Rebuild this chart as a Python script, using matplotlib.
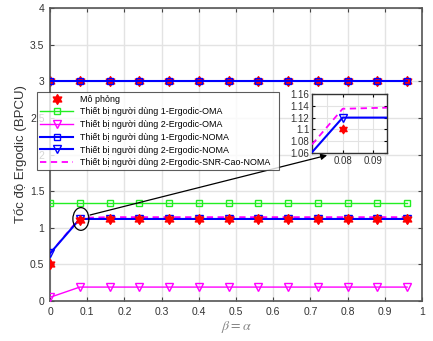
import matplotlib
matplotlib.use("Agg")
import matplotlib.pyplot as plt
import numpy as np
from matplotlib.path import Path
from matplotlib.patches import Ellipse
from matplotlib.lines import Line2D

plt.rcParams['font.family'] = ['Liberation Sans', 'DejaVu Sans']
plt.rcParams['mathtext.fontset'] = 'stix'

# ---- data ----
x = [0, 0.08, 0.16, 0.24, 0.32, 0.40, 0.48, 0.56, 0.64, 0.72, 0.80, 0.88, 0.96]
u1_oma = [1.34] * 13
u2_oma = [0.05] + [0.19] * 12
u1_noma = [3.01] * 13
u2_noma = [0.65] + [1.12] * 12
u2_hsnr = [0.65, 1.135] + [1.145] * 11
sim_u1 = [3.01] * 13
sim_u2 = [0.50, 1.10] + [1.12] * 11

labels = ["Mô phỏng",
          "Thiết bị người dùng 1-Ergodic-OMA",
          "Thiết bị người dùng 2-Ergodic-OMA",
          "Thiết bị người dùng 1-Ergodic-NOMA",
          "Thiết bị người dùng 2-Ergodic-NOMA",
          "Thiết bị người dùng 2-Ergodic-SNR-Cao-NOMA"]
xticks = [0, 0.1, 0.2, 0.3, 0.4, 0.5, 0.6, 0.7, 0.8, 0.9, 1]
yticks = [0, 0.5, 1, 1.5, 2, 2.5, 3, 3.5, 4]
inset_xticks = [0.08, 0.09]
inset_yticks = [1.06, 1.08, 1.1, 1.12, 1.14, 1.16]

# hexagram marker
ang = np.arange(12) * np.pi / 6 + np.pi / 2
rad = np.where(np.arange(12) % 2 == 0, 1.0, 1 / np.sqrt(3))
verts = np.column_stack([rad * np.cos(ang), rad * np.sin(ang)])
verts = np.vstack([verts, verts[0]])
hexa = Path(verts, [Path.MOVETO] + [Path.LINETO] * 11 + [Path.CLOSEPOLY])

GREEN = '#22ee22'
MAG = '#ff00ff'
BLUE = '#0000ff'
RED = '#ff0000'
STAR_MS = 7

fig = plt.figure(figsize=(4.33, 3.41), dpi=100)
ax = fig.add_axes([0.1155, 0.1173, 0.8591, 0.8592])


def draw(a, ms):
    a.plot(x, sim_u1, linestyle='none', marker=hexa, color=RED, ms=ms, zorder=2)
    a.plot(x, u1_oma, color=GREEN, lw=1.0, marker='s', mfc='none', ms=5, mew=1.0, zorder=3)
    a.plot(x, u2_oma, color=MAG, lw=1.0, marker='v', mfc='none', ms=6, mew=1.0, zorder=3)
    a.plot(x, u1_noma, color=BLUE, lw=1.5, marker='s', mfc='none', ms=5, mew=1.0, zorder=3)
    a.plot(x, u2_hsnr, color=MAG, lw=1.3, ls=(0, (3.5, 2.5)), zorder=3)
    a.plot(x, u2_noma, color=BLUE, lw=1.5, marker='v', mfc='none', ms=6, mew=1.0, zorder=4)
    a.plot(x, sim_u2, linestyle='none', marker=hexa, color=RED, ms=ms, zorder=5)


draw(ax, STAR_MS)
ax.set_xlim(0, 1)
ax.set_ylim(0, 4)
ax.set_xticks(xticks)
ax.set_xticklabels([f"{t:g}" for t in xticks])
ax.set_yticks(yticks)
ax.set_yticklabels([f"{t:g}" for t in yticks])
ax.grid(True, color='#e3e3e3', lw=1.0)
ax.set_axisbelow(True)
ax.tick_params(direction='in', top=True, right=True, length=3, width=0.8,
               labelsize=7.5, labelcolor='#333333', color='#444444', pad=4)
for s in ax.spines.values():
    s.set_color('#555555')
    s.set_linewidth(1.2)
ax.set_ylabel("Tốc độ Ergodic (BPCU)", fontsize=9.5, color='#333333', labelpad=2)
ax.set_xlabel(r"$\beta = \alpha$", fontsize=10, color='#888888', labelpad=2)

# ellipse and arrow
ax.add_patch(Ellipse((0.083, 1.12), 0.043, 0.31, fill=False, ec='black', lw=0.9, zorder=6))
ax.annotate("", xy=(0.745, 1.99), xytext=(0.1075, 1.174), xycoords='data',
            arrowprops=dict(arrowstyle='-|>', color='black', lw=0.9,
                            mutation_scale=9, shrinkA=0, shrinkB=0),
            annotation_clip=False, zorder=6)

# legend
handles = [
    Line2D([], [], linestyle='none', marker=hexa, color=RED, ms=STAR_MS),
    Line2D([], [], color=GREEN, lw=1.0, marker='s', mfc='none', ms=5),
    Line2D([], [], color=MAG, lw=1.0, marker='v', mfc='none', ms=6),
    Line2D([], [], color=BLUE, lw=1.5, marker='s', mfc='none', ms=5),
    Line2D([], [], color=BLUE, lw=1.5, marker='v', mfc='none', ms=6),
    Line2D([], [], color=MAG, lw=1.3, ls=(0, (3.5, 2.5))),
]
leg = fig.legend(handles, labels, loc='lower left',
                 bbox_to_anchor=(0.0855, 0.5015, 0.559, 0.246), mode='expand',
                 fontsize=6.4, frameon=True, fancybox=False, borderaxespad=0,
                 handlelength=3.8, handletextpad=0.7, labelspacing=0.42,
                 borderpad=0.3)
leg.get_frame().set_edgecolor('#333333')
leg.get_frame().set_linewidth(0.8)
leg.set_zorder(10)

# inset
ins = fig.add_axes([0.7206, 0.5513, 0.1732, 0.173])
ins.set_zorder(11)
draw(ins, 6)
ins.set_xlim(0.07, 0.0945)
ins.set_ylim(1.06, 1.16)
ins.set_xticks(inset_xticks)
ins.set_xticklabels([f"{t:g}" for t in inset_xticks])
ins.set_yticks(inset_yticks)
ins.set_yticklabels([f"{t:g}" for t in inset_yticks])
ins.set_xticks([0.075, 0.085], minor=True)
ins.grid(True, which='both', color='#e3e3e3', lw=0.8)
ins.set_axisbelow(True)
ins.tick_params(which='both', direction='in', top=True, right=True, length=2.5,
                labelsize=7, labelcolor='#333333', pad=2)
ins.tick_params(which='minor', length=0)
for s in ins.spines.values():
    s.set_color('#333333')
    s.set_linewidth(1.0)

fig.savefig("out.png", dpi=100)
